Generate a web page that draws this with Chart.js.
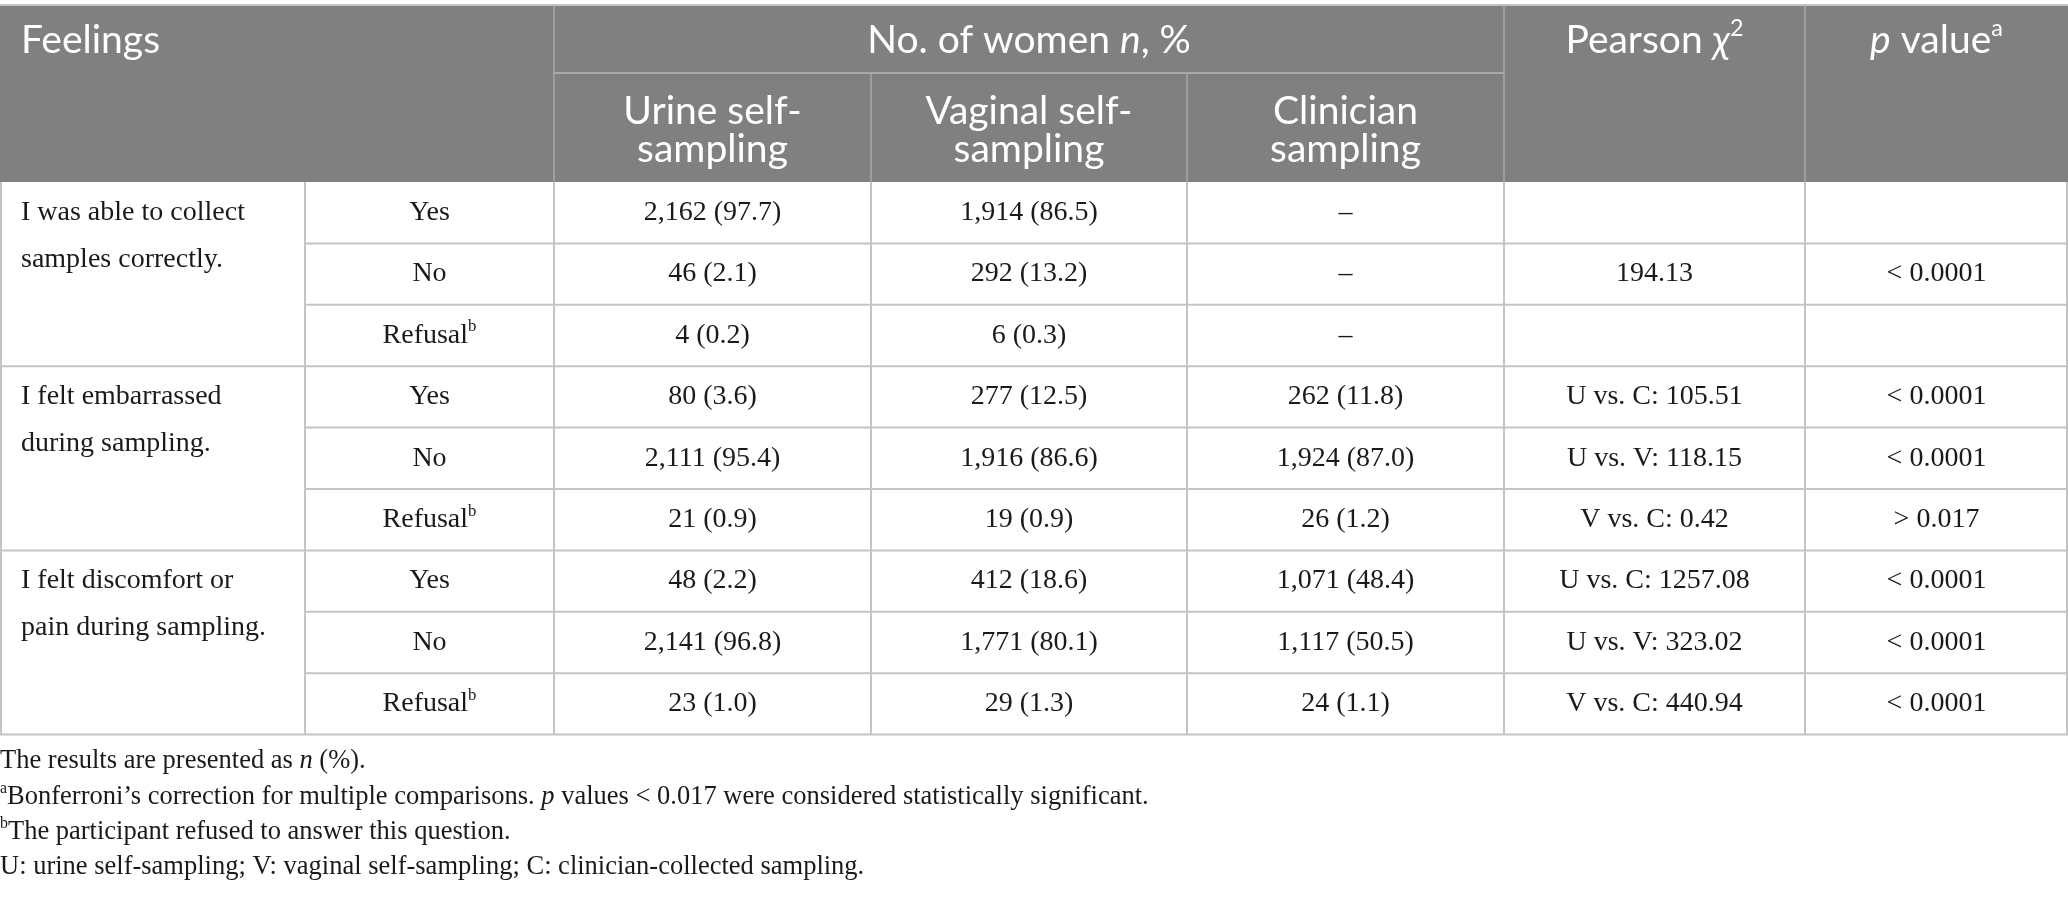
<!DOCTYPE html>
<html>
<head>
<meta charset="utf-8">
<script src="https://cdn.jsdelivr.net/npm/chart.js@4.4.1/dist/chart.umd.min.js"></script>
<style>
  html, body { margin: 0; padding: 0; background: #fff; }
  canvas { display: block; }
</style>
</head>
<body>
<canvas id="tableChart" width="2068" height="900"></canvas>
<script>
// Table content
const feelings = [
    ["I was able to collect", "samples correctly."],
    ["I felt embarrassed", "during sampling."],
    ["I felt discomfort or", "pain during sampling."]
];
const responses = ["Yes", "No", "Refusal"];
const urineSelf = ["2,162 (97.7)", "46 (2.1)", "4 (0.2)", "80 (3.6)", "2,111 (95.4)", "21 (0.9)", "48 (2.2)", "2,141 (96.8)", "23 (1.0)"];
const vaginalSelf = ["1,914 (86.5)", "292 (13.2)", "6 (0.3)", "277 (12.5)", "1,916 (86.6)", "19 (0.9)", "412 (18.6)", "1,771 (80.1)", "29 (1.3)"];
const clinician = ["–", "–", "–", "262 (11.8)", "1,924 (87.0)", "26 (1.2)", "1,071 (48.4)", "1,117 (50.5)", "24 (1.1)"];
const pearson = ["", "194.13", "", "U vs. C: 105.51", "U vs. V: 118.15", "V vs. C: 0.42", "U vs. C: 1257.08", "U vs. V: 323.02", "V vs. C: 440.94"];
const pValues = ["", "< 0.0001", "", "< 0.0001", "< 0.0001", "> 0.017", "< 0.0001", "< 0.0001", "< 0.0001"];
const subHeaders = [["Urine self-", "sampling"], ["Vaginal self-", "sampling"], ["Clinician", "sampling"]];
const footnotes = [
    [{ t: "The results are presented as " }, { t: "n", it: true }, { t: " (%)." }],
    [{ t: "a", sup: true }, { t: "Bonferroni’s correction for multiple comparisons. " }, { t: "p", it: true }, { t: " values < 0.017 were considered statistically significant." }],
    [{ t: "b", sup: true }, { t: "The participant refused to answer this question." }],
    [{ t: "U: urine self-sampling; V: vaginal self-sampling; C: clinician-collected sampling." }]
];

// Layout (pixel units of the hidden linear scales)
const W = 2068, H = 900;
const colEdges = [0, 305, 554, 871, 1187, 1504, 1805, 2068];
const headTop = 5, headMid = 73, headBottom = 182, rowH = 61.4;
const noteY = [761, 797, 832, 867];
const headFont = 'Lato', bodyFont = '"Liberation Serif"';
const headSize = 39, bodySize = 28, noteSize = 26.5;

function runsWidth(ctx, runs, size, family) {
    let w = 0;
    runs.forEach(r => {
        const s = r.sup ? size * 0.6 : size;
        ctx.font = (r.it ? 'italic ' : '') + s + 'px ' + family;
        w += ctx.measureText(r.t).width;
    });
    return w;
}

function drawRuns(ctx, runs, x, y, size, family, color, align) {
    const total = runsWidth(ctx, runs, size, family);
    let cx = align === 'center' ? x - total / 2 : x;
    ctx.fillStyle = color;
    ctx.textAlign = 'left';
    ctx.textBaseline = 'middle';
    runs.forEach(r => {
        const s = r.sup ? size * 0.6 : size;
        ctx.font = (r.it ? 'italic ' : '') + s + 'px ' + family;
        ctx.fillText(r.t, cx, r.sup ? y - size * 0.3 : y);
        cx += ctx.measureText(r.t).width;
    });
}

const tablePlugin = {
    id: 'tableDraw',
    afterDraw(chart) {
        const ctx = chart.ctx;
        const X = v => chart.scales.x.getPixelForValue(v);
        const Y = v => chart.scales.y.getPixelForValue(v);
        const nRows = urineSelf.length;
        const tableBottom = headBottom + nRows * rowH;
        const line = (x1, y1, x2, y2, color, w) => {
            ctx.strokeStyle = color;
            ctx.lineWidth = w;
            ctx.beginPath();
            ctx.moveTo(X(x1), Y(y1));
            ctx.lineTo(X(x2), Y(y2));
            ctx.stroke();
        };
        const text = (runs, x, y, size, family, color, align) =>
            drawRuns(ctx, runs, X(x), Y(y), size, family, color, align);
        ctx.save();

        // header background
        ctx.fillStyle = '#808080';
        ctx.fillRect(X(0), Y(headTop), X(W) - X(0), Y(headBottom) - Y(headTop));
        line(0, headTop, W, headTop, '#c4c4c4', 2);
        [2, 5, 6].forEach(i => line(colEdges[i], headTop, colEdges[i], headBottom, '#a9a9a9', 1.5));
        [3, 4].forEach(i => line(colEdges[i], headMid, colEdges[i], headBottom, '#a9a9a9', 1.5));
        line(colEdges[2], headMid, colEdges[5], headMid, '#a9a9a9', 2);

        // body grid
        for (let r = 0; r < nRows; r++) {
            const yb = headBottom + (r + 1) * rowH;
            const start = (r + 1) % 3 === 0 ? 0 : colEdges[1];
            line(start, yb, W, yb, '#c4c4c4', 2);
        }
        colEdges.forEach((cx, i) => {
            const xx = i === 0 ? 1 : (i === colEdges.length - 1 ? W - 1 : cx);
            line(xx, headBottom, xx, tableBottom, '#c4c4c4', 2);
        });

        // header text
        const white = '#ffffff';
        text([{ t: 'Feelings' }], 21, 40, headSize, headFont, white, 'left');
        text([{ t: 'No. of women ' }, { t: 'n', it: true }, { t: ', %' }],
            (colEdges[2] + colEdges[5]) / 2, 40, headSize, headFont, white, 'center');
        text([{ t: 'Pearson ' }, { t: 'χ', it: true }, { t: '2', sup: true }],
            (colEdges[5] + colEdges[6]) / 2, 40, headSize, headFont, white, 'center');
        text([{ t: 'p', it: true }, { t: ' value' }, { t: 'a', sup: true }],
            (colEdges[6] + colEdges[7]) / 2, 40, headSize, headFont, white, 'center');
        subHeaders.forEach((lines, i) => {
            const cx = (colEdges[i + 2] + colEdges[i + 3]) / 2;
            lines.forEach((t, j) => text([{ t }], cx, 111 + j * 38, headSize, headFont, white, 'center'));
        });

        // body text
        const ink = '#1a1a1a';
        feelings.forEach((lines, g) => {
            lines.forEach((t, j) => {
                text([{ t }], 21, headBottom + g * 3 * rowH + rowH / 2 + j * 47, bodySize, bodyFont, ink, 'left');
            });
        });
        const cols = [urineSelf, vaginalSelf, clinician, pearson, pValues];
        for (let r = 0; r < nRows; r++) {
            const cy = headBottom + (r + 0.5) * rowH;
            const resp = responses[r % 3];
            const runs = resp === 'Refusal' ? [{ t: resp }, { t: 'b', sup: true }] : [{ t: resp }];
            text(runs, (colEdges[1] + colEdges[2]) / 2, cy, bodySize, bodyFont, ink, 'center');
            cols.forEach((arr, c) => {
                if (arr[r]) text([{ t: arr[r] }], (colEdges[c + 2] + colEdges[c + 3]) / 2, cy, bodySize, bodyFont, ink, 'center');
            });
        }

        // footnotes
        footnotes.forEach((runs, i) => text(runs, 0, noteY[i], noteSize, bodyFont, ink, 'left'));
        ctx.restore();
    }
};

const chart = new Chart(document.getElementById('tableChart').getContext('2d'), {
    type: 'bar',
    data: { labels: [], datasets: [] },
    options: {
        responsive: false,
        animation: false,
        devicePixelRatio: 1,
        layout: { padding: 0 },
        plugins: { legend: { display: false }, tooltip: { enabled: false } },
        scales: {
            x: { type: 'linear', min: 0, max: W, offset: false, display: false },
            y: { type: 'linear', min: 0, max: H, offset: false, reverse: true, display: false }
        }
    },
    plugins: [tablePlugin]
});
</script>
</body>
</html>
